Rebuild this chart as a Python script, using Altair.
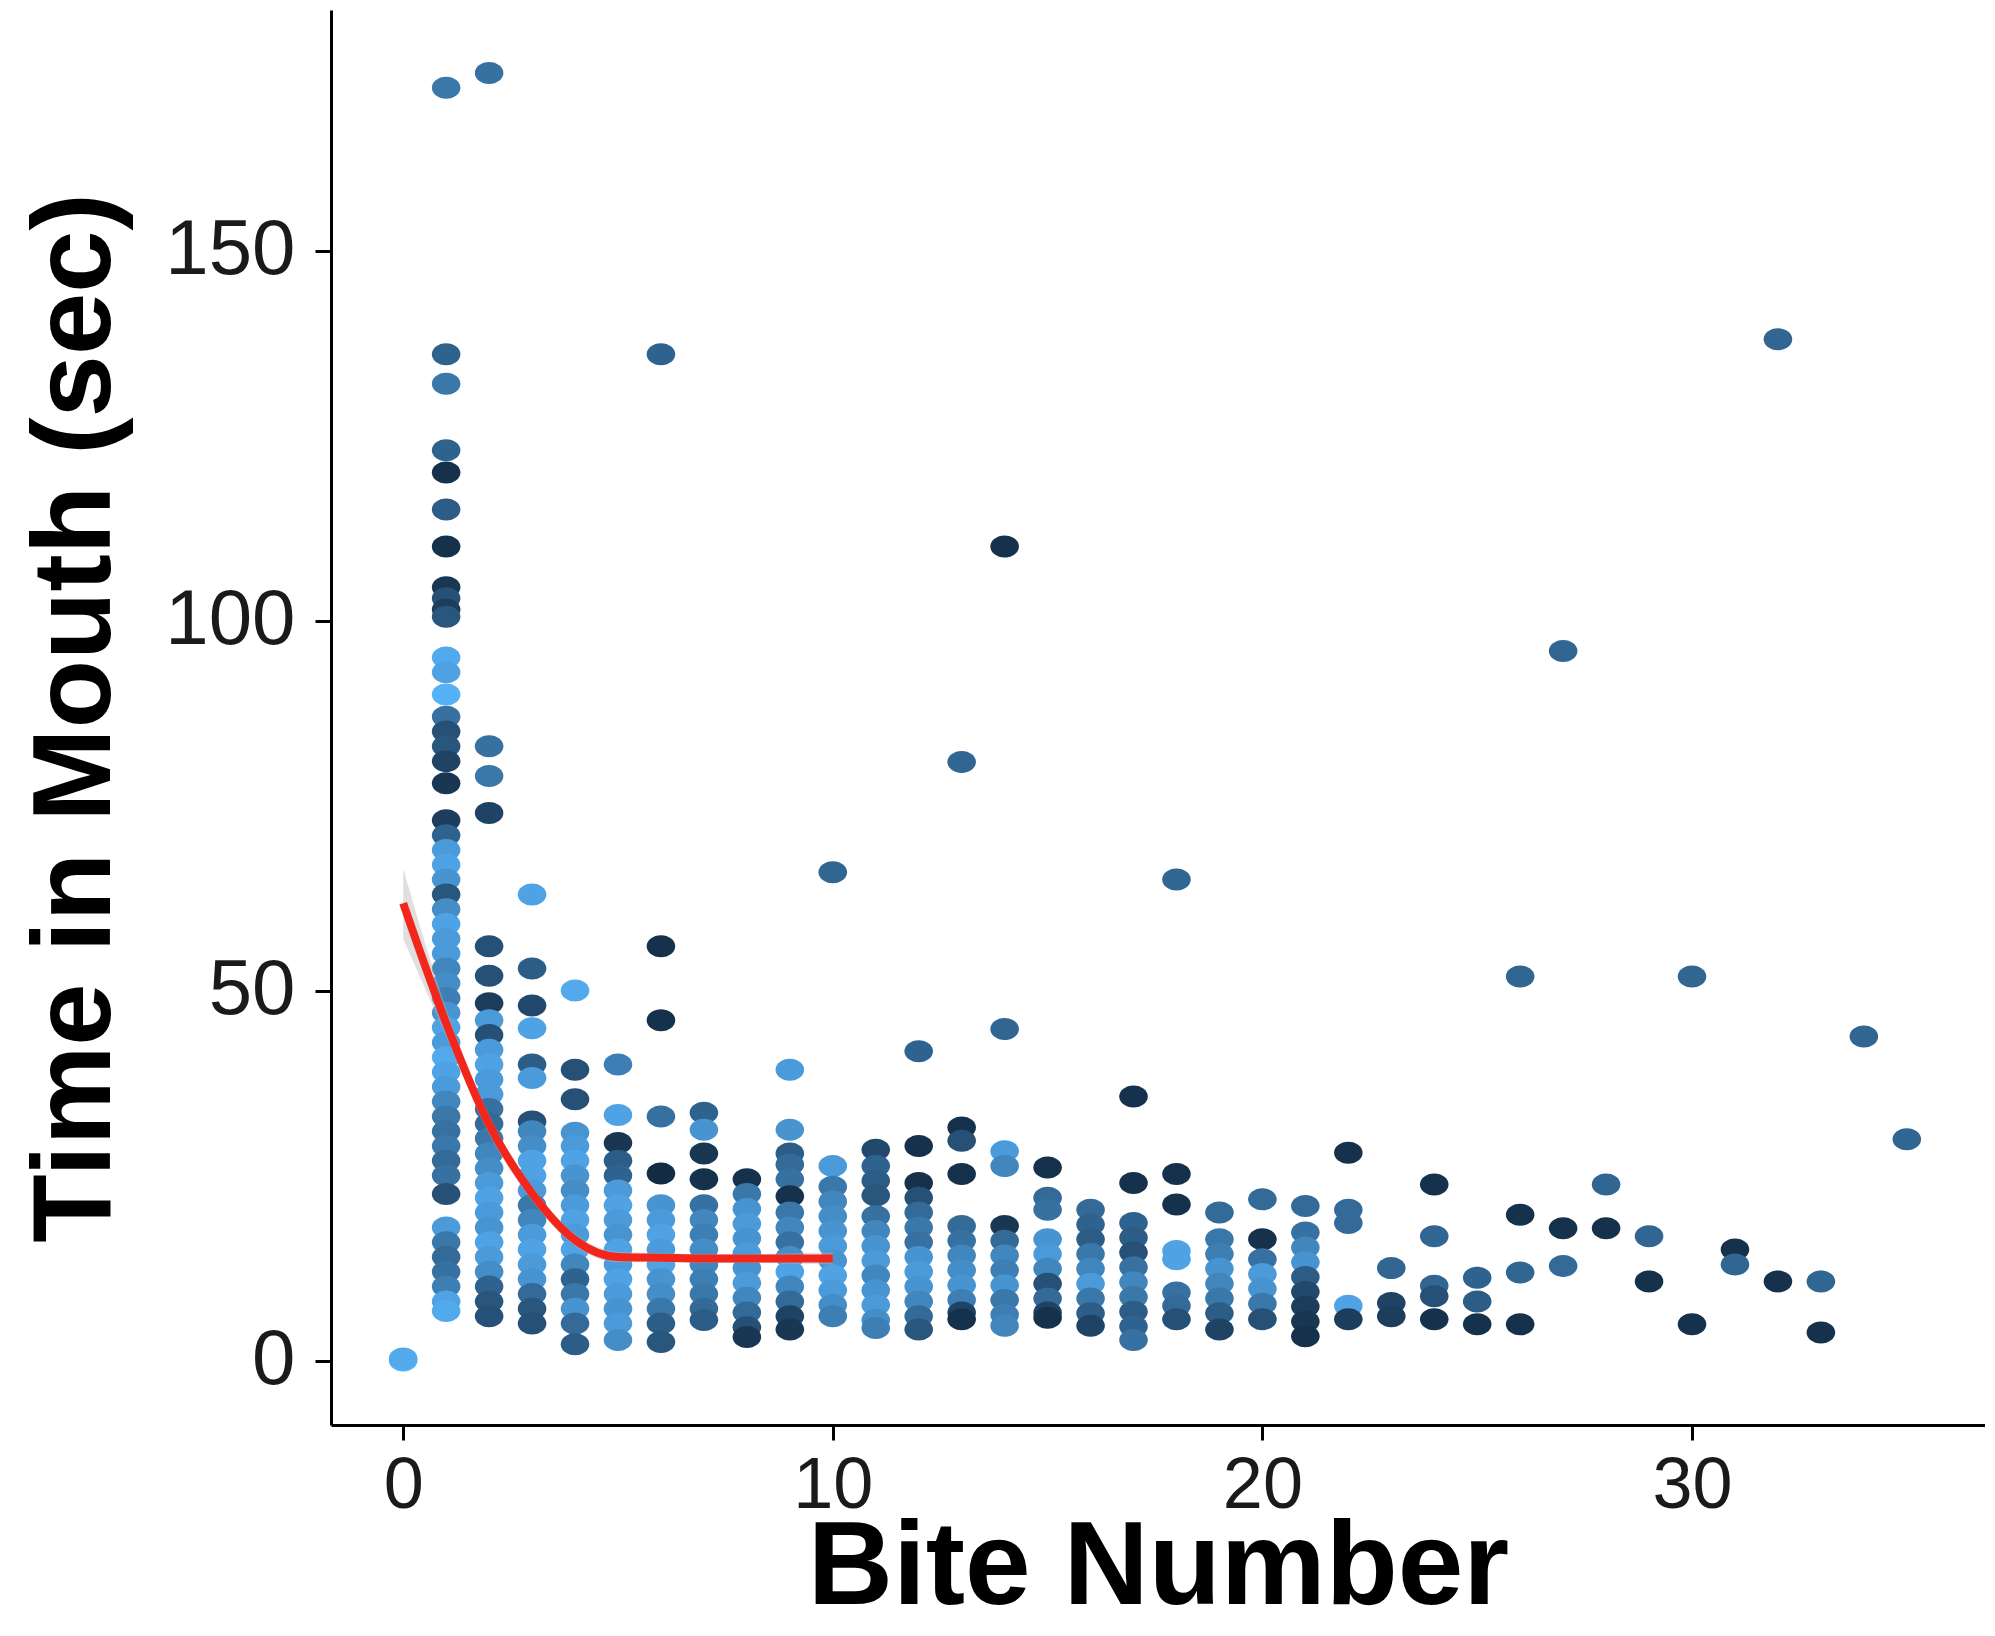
import altair as alt
import pandas as pd

# ---- scatter data: bite number, time in mouth (sec), colour shade (0 = dark, 1 = light)
bite_number = (
    [0, 0]
    + [1] * 52
    + [2] * 28
    + [3] * 21
    + [4] * 18
    + [5] * 16
    + [6] * 15
    + [7] * 13
    + [8] * 12
    + [9] * 15
    + [10] * 12
    + [11] * 13
    + [12] * 13
    + [13] * 12
    + [14] * 12
    + [15] * 10
    + [16] * 9
    + [17] * 11
    + [18] * 8
    + [19] * 8
    + [20] * 7
    + [21] * 9
    + [22] * 5
    + [23] * 3
    + [24] * 5
    + [25] * 3
    + [26] * 4
    + [27] * 3
    + [28] * 2
    + [29] * 2
    + [30] * 2
    + [31] * 2
    + [32] * 2
    + [33] * 2
    + [34] * 1
    + [35] * 1
)

time_sec = [
    0, 0.3,
    # bite 1
    172, 136, 132, 123, 120, 115, 110, 104.5, 103, 101.5, 100.5, 95, 93, 90, 87, 85, 83, 81, 78,
    73, 71, 69, 67, 65, 63, 61, 59, 57, 55, 53, 51, 49, 47, 45, 43, 41, 39, 37, 35, 33, 31, 29,
    27, 25, 22.5, 18, 16, 14, 12, 10, 8, 6.7,
    # bite 2
    174, 83, 79, 74, 56, 52, 48.3, 46, 44, 42, 40, 38, 36, 34, 32, 30, 28, 26, 24, 22, 20, 18,
    16, 14, 12, 10, 8, 6,
    # bite 3
    63, 53, 48, 44.9, 40, 38.2, 32.3, 31, 29, 27, 25, 23, 21, 19, 17, 15, 13, 11, 9, 7, 5,
    # bite 4
    50, 39.3, 35.3, 30.8, 29, 27, 25, 23, 21, 19, 17, 15, 13, 11, 9, 7, 5, 2.2,
    # bite 5
    40, 33.2, 29.4, 27, 25, 23, 21, 19, 17, 15, 13, 11, 9, 7, 5, 2.8,
    # bite 6
    136, 56, 46, 33, 25.3, 21, 19, 17, 15, 13, 11, 9, 7, 5, 2.5,
    # bite 7
    33.5, 31.2, 28, 24.5, 21, 19, 17, 15, 13, 11, 9, 7, 5.5,
    # bite 8
    24.5, 22.5, 20.5, 18.5, 16.5, 14.5, 12.5, 10.5, 8.5, 6.5, 4.5, 3.2,
    # bite 9
    39.3, 31.2, 28, 26.5, 24.5, 22.2, 20, 18, 16, 14, 12, 10, 8, 6, 4.2,
    # bite 10
    66, 26.3, 23.5, 21.5, 19.5, 17.5, 15.5, 13.5, 11.5, 9.5, 7.5, 6,
    # bite 11
    28.5, 26.3, 24.3, 22.3, 19.5, 17.5, 15.5, 13.5, 11.5, 9.5, 7.5, 5.5, 4.4,
    # bite 12
    41.8, 29, 24, 22, 20, 18, 16, 14, 12, 10, 8, 6, 4.2,
    # bite 13
    80.9, 31.5, 29.7, 25.2, 18.2, 16.2, 14.2, 12.2, 10.2, 8.2, 6.5, 5.6,
    # bite 14
    110, 44.8, 28.3, 26.3, 18.2, 16.2, 14.2, 12.2, 10.2, 8.2, 6.2, 4.7,
    # bite 15
    26.1, 22, 20.4, 16.4, 14.4, 12.4, 10.4, 8.4, 6.5, 5.8,
    # bite 16
    20.4, 18.4, 16.4, 14.4, 12.4, 10.4, 8.4, 6.4, 4.7,
    # bite 17
    35.7, 24, 18.6, 16.6, 14.6, 12.6, 10.6, 8.6, 6.6, 4.6, 2.8,
    # bite 18
    65, 25.2, 21.1, 14.8, 13.7, 9.2, 7.4, 5.6,
    # bite 19
    20, 16.4, 14.4, 12.4, 10.4, 8.4, 6.4, 4.2,
    # bite 20
    21.8, 16.4, 13.7, 11.7, 9.7, 7.7, 5.6,
    # bite 21
    20.9, 17.3, 15.3, 13.3, 11.3, 9.3, 7.3, 5.3, 3.3,
    # bite 22
    28.1, 20.4, 18.6, 7.4, 5.6,
    # bite 23
    12.5, 7.8, 6,
    # bite 24
    23.8, 16.8, 10.1, 8.7, 5.6,
    # bite 25
    11.2, 8.0, 4.9,
    # bite 26
    51.9, 19.7, 11.9, 4.9,
    # bite 27
    95.9, 17.9, 12.8,
    # bite 28
    23.8, 17.9,
    # bite 29
    16.8, 10.7,
    # bite 30
    51.9, 4.9,
    # bite 31
    15, 13,
    # bite 32
    138, 10.7,
    # bite 33
    10.7, 3.8,
    # bite 34
    43.8,
    # bite 35
    29.9,
]

shade = [
    1.0, 0.95,
    # bite 1
    0.6, 0.45, 0.6, 0.45, 0.05, 0.4, 0.05, 0.1, 0.3, 0.15, 0.35, 0.95, 0.9, 1.0, 0.55, 0.3, 0.35, 0.2, 0.1,
    0.15, 0.45, 0.85, 0.9, 0.8, 0.35, 0.75, 0.9, 0.85, 0.85, 0.7, 0.75, 0.65, 0.8, 0.9, 0.85, 0.95, 0.9, 0.85, 0.7, 0.6, 0.55, 0.6,
    0.5, 0.55, 0.3, 0.85, 0.6, 0.5, 0.55, 0.65, 0.9, 0.95,
    # bite 2
    0.55, 0.55, 0.6, 0.2, 0.3, 0.3, 0.15, 0.85, 0.3, 0.85, 0.9, 0.85, 0.85, 0.55, 0.5, 0.6, 0.7, 0.75, 0.85, 0.9, 0.85, 0.8,
    0.9, 0.85, 0.75, 0.45, 0.35, 0.3,
    # bite 3
    0.9, 0.4, 0.25, 0.9, 0.4, 0.85, 0.3, 0.7, 0.75, 0.9, 0.9, 0.85, 0.6, 0.7, 0.85, 0.9, 0.85, 0.8, 0.5, 0.35, 0.3,
    # bite 4
    0.95, 0.3, 0.3, 0.8, 0.85, 0.9, 0.8, 0.75, 0.85, 0.9, 0.85, 0.9, 0.7, 0.45, 0.6, 0.8, 0.5, 0.4,
    # bite 5
    0.65, 0.9, 0.1, 0.4, 0.45, 0.85, 0.9, 0.85, 0.8, 0.9, 0.85, 0.9, 0.85, 0.8, 0.85, 0.75,
    # bite 6
    0.45, 0.05, 0.05, 0.55, 0.0, 0.8, 0.85, 0.9, 0.85, 0.9, 0.8, 0.75, 0.6, 0.4, 0.35,
    # bite 7
    0.45, 0.8, 0.1, 0.05, 0.55, 0.7, 0.65, 0.75, 0.7, 0.65, 0.6, 0.5, 0.4,
    # bite 8
    0.05, 0.6, 0.8, 0.85, 0.8, 0.85, 0.8, 0.85, 0.7, 0.5, 0.3, 0.1,
    # bite 9
    0.85, 0.8, 0.4, 0.5, 0.55, 0.05, 0.6, 0.7, 0.55, 0.75, 0.9, 0.7, 0.5, 0.2, 0.1,
    # bite 10
    0.47, 0.85, 0.6, 0.7, 0.75, 0.8, 0.85, 0.8, 0.9, 0.85, 0.75, 0.65,
    # bite 11
    0.25, 0.45, 0.4, 0.35, 0.55, 0.7, 0.8, 0.85, 0.7, 0.8, 0.85, 0.75, 0.65,
    # bite 12
    0.45, 0.05, 0.05, 0.3, 0.5, 0.6, 0.55, 0.8, 0.85, 0.8, 0.7, 0.5, 0.35,
    # bite 13
    0.47, 0.05, 0.3, 0.05, 0.5, 0.55, 0.7, 0.75, 0.8, 0.65, 0.2, 0.05,
    # bite 14
    0.05, 0.47, 0.85, 0.7, 0.1, 0.5, 0.7, 0.65, 0.8, 0.6, 0.65, 0.7,
    # bite 15
    0.05, 0.5, 0.55, 0.8, 0.85, 0.7, 0.3, 0.5, 0.2, 0.05,
    # bite 16
    0.5, 0.45, 0.4, 0.6, 0.7, 0.85, 0.6, 0.4, 0.2,
    # bite 17
    0.05, 0.05, 0.45, 0.4, 0.3, 0.55, 0.7, 0.6, 0.4, 0.45, 0.55,
    # bite 18
    0.47, 0.05, 0.05, 0.9, 0.9, 0.55, 0.5, 0.3,
    # bite 19
    0.5, 0.6, 0.65, 0.8, 0.7, 0.6, 0.4, 0.2,
    # bite 20
    0.5, 0.05, 0.55, 0.85, 0.8, 0.6, 0.3,
    # bite 21
    0.5, 0.55, 0.7, 0.8, 0.4, 0.25, 0.15, 0.1, 0.05,
    # bite 22
    0.05, 0.5, 0.5, 0.9, 0.15,
    # bite 23
    0.47, 0.2, 0.15,
    # bite 24
    0.05, 0.47, 0.47, 0.3, 0.05,
    # bite 25
    0.45, 0.4, 0.05,
    # bite 26
    0.47, 0.05, 0.47, 0.05,
    # bite 27
    0.47, 0.05, 0.5,
    # bite 28
    0.47, 0.05,
    # bite 29
    0.47, 0.05,
    # bite 30
    0.47, 0.05,
    # bite 31
    0.05, 0.47,
    # bite 32
    0.47, 0.05,
    # bite 33
    0.47, 0.05,
    # bite 34
    0.47,
    # bite 35
    0.47,
]

# ---- smoothed trend (red line) and its confidence ribbon
smooth_bite = [0, 1, 2, 3, 4, 5, 6, 7, 8, 9, 10]
smooth_time = [61.8, 45.6, 31.9, 22.6, 16.3, 14.0, 13.9, 13.8, 13.8, 13.8, 13.8]
band_low = [57.0, 43.8, 30.6, 21.6, 15.5, 13.3, 13.3, 13.2, 13.2, 13.1, 13.0]
band_high = [66.5, 47.6, 33.2, 23.6, 17.1, 14.7, 14.5, 14.4, 14.4, 14.5, 14.6]

x_ticks = [0, 10, 20, 30]
y_ticks = [0, 50, 100, 150]

points_df = pd.DataFrame({"bite": bite_number, "time": time_sec, "shade": shade})
smooth_df = pd.DataFrame(
    {"bite": smooth_bite, "time": smooth_time, "low": band_low, "high": band_high}
)

FONT = "Liberation Sans"

x_scale = alt.Scale(domain=[-1.68, 36.82], nice=False, zero=False)
y_scale = alt.Scale(domain=[-8.7, 182.5], nice=False, zero=False)

x_axis = alt.Axis(
    values=x_ticks,
    title="Bite Number",
    titleFontSize=118,
    titleFontWeight="bold",
    titleColor="black",
    titleFont=FONT,
    titleBaseline="alphabetic",
    titleY=178,
    labelFontSize=72,
    labelFont=FONT,
    labelColor="#1a1a1a",
    labelPadding=10,
    labelFlush=False,
    tickSize=15,
    tickWidth=3,
    tickColor="black",
    domainColor="black",
    domainWidth=3,
    grid=False,
)

y_axis = alt.Axis(
    values=y_ticks,
    title="Time in Mouth (sec)",
    titleFontSize=112,
    titleFontWeight="bold",
    titleColor="black",
    titleFont=FONT,
    titleBaseline="alphabetic",
    titleX=-222,
    labelFontSize=78,
    labelFont=FONT,
    labelColor="#1a1a1a",
    labelPadding=20,
    labelFlush=False,
    tickSize=16,
    tickWidth=3,
    tickColor="black",
    domainColor="black",
    domainWidth=3,
    grid=False,
)

ellipse = (
    "M1.3,0C1.3,0.5523,0.718,1,0,1C-0.718,1,-1.3,0.5523,-1.3,0"
    "C-1.3,-0.5523,-0.718,-1,0,-1C0.718,-1,1.3,-0.5523,1.3,0Z"
)

points = (
    alt.Chart(points_df)
    .mark_point(filled=True, opacity=1, shape=ellipse, size=484, strokeWidth=0)
    .encode(
        x=alt.X("bite:Q", scale=x_scale, axis=x_axis),
        y=alt.Y("time:Q", scale=y_scale, axis=y_axis),
        color=alt.Color(
            "shade:Q",
            scale=alt.Scale(domain=[0, 1], range=["#132B43", "#56B1F7"], interpolate="lab"),
            legend=None,
        ),
    )
)

band = (
    alt.Chart(smooth_df)
    .mark_area(color="#b8b8b8", opacity=0.45, interpolate="monotone")
    .encode(
        x=alt.X("bite:Q", scale=x_scale, axis=x_axis),
        y=alt.Y("low:Q", scale=y_scale, axis=y_axis),
        y2="high:Q",
    )
)

line = (
    alt.Chart(smooth_df)
    .mark_line(color="#F3261B", strokeWidth=8, interpolate="monotone")
    .encode(
        x=alt.X("bite:Q", scale=x_scale, axis=x_axis),
        y=alt.Y("time:Q", scale=y_scale, axis=y_axis),
    )
)

chart = (
    alt.layer(points, band, line)
    .properties(
        width=1654,
        height=1415,
        autosize=alt.AutoSizeParams(type="none"),
        padding={"left": 323, "top": 2, "right": 0, "bottom": 202},
        background="white",
    )
    .configure_view(stroke="transparent")
)

chart.save("out.html", embed_options={"renderer": "svg", "actions": False})
